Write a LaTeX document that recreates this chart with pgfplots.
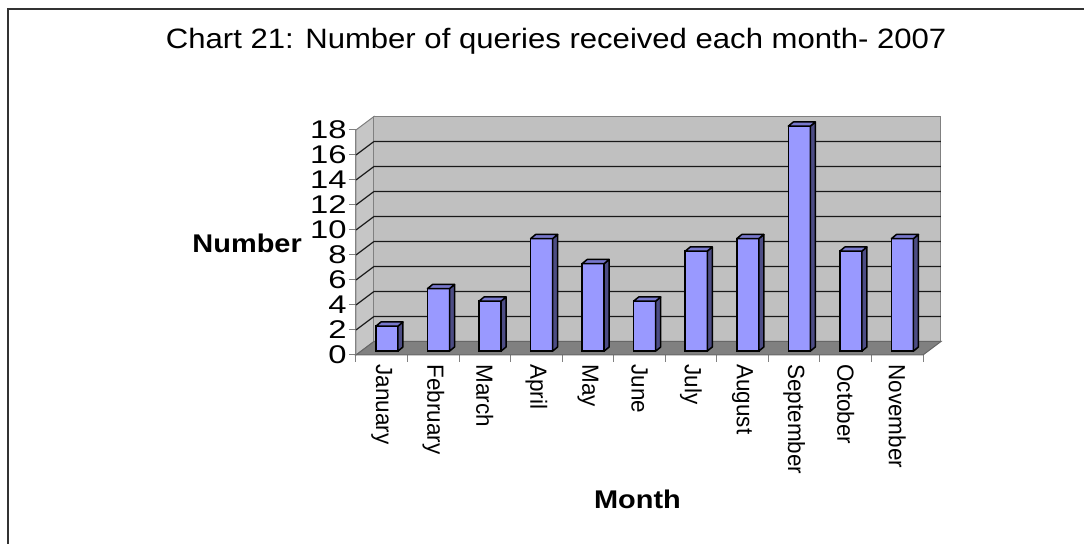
\documentclass[border=0pt]{standalone}
\usepackage{pgfplots}
\pgfplotsset{compat=1.18}
\usepackage{pgfplotstable}
\usepackage{fontspec}
\setmainfont{Liberation Sans}
\newfontfamily\titlefont[FakeStretch=1.11]{Liberation Sans}
\newfontfamily\labfont[FakeStretch=1.13]{Liberation Sans}
\newfontfamily\tickfont[FakeStretch=1.28]{Liberation Sans}
\newfontfamily\monthfont[FakeStretch=0.96]{Liberation Sans}

\definecolor{barfront}{HTML}{9999FF}
\definecolor{barside}{HTML}{4D4D85}
\definecolor{bartop}{HTML}{7878CC}
\definecolor{wall}{HTML}{C0C0C0}
\definecolor{sidewall}{HTML}{C6C6C6}
\definecolor{floorc}{HTML}{808080}

\pgfplotstableread{
x v
0 2
1 5
2 4
3 9
4 7
5 4
6 8
7 9
8 18
9 8
10 9
}\querydata

\def\DX{0.349}
\def\DY{1.08}
\def\SX{0.101}
\def\SY{0.31}
\def\BX{0.097}
\def\BY{0.33}
\def\HW{0.2135}

\begin{document}
\begin{tikzpicture}
\useasboundingbox (0,0) rectangle (542pt,272pt);
\clip (0,0) rectangle (542pt,272pt);
\fill[white] (0,0) rectangle (542pt,272pt);
\draw[line width=1pt, color=black!80] (3.75pt,-5pt) -- (3.75pt,267.25pt) -- (550pt,267.25pt);
\begin{axis}[
  at={(178pt,94.5pt)}, anchor=south west, scale only axis,
  width=283.5pt, height=112.5pt,
  xmin=-0.5, xmax=10.5, ymin=0, ymax=18,
  enlargelimits=false,
  clip=false,
  ybar stacked,
  reverse stacked plots=false,
  axis lines*=left,
  axis line style={draw=gray, line width=0.5pt},
  ytick={0,2,...,18},
  xtick={-0.5,0.5,...,10.5},
  xticklabels={},
  extra x ticks={0,1,2,3,4,5,6,7,8,9,10},
  extra x tick labels={January,February,March,April,May,June,July,August,September,October,November},
  extra x tick style={tick style={draw=none}, grid=none},
  tick align=outside,
  major tick length=3.5pt,
  tick style={gray, line width=0.5pt},
  /pgf/number format/assume math mode=true,
  yticklabel style={font=\tickfont\fontsize{12.8}{13}\selectfont, anchor=east, inner sep=1pt},
  xticklabel style={font=\monthfont\fontsize{11.7}{12}\selectfont, rotate=-90, anchor=west, inner sep=1pt},
  title={Chart 21: Number of queries received each month- 2007},
  title style={at={(axis description cs:0.353,1.307)}, anchor=base, font=\titlefont\fontsize{14}{16}\selectfont},
  ylabel={Number},
  ylabel style={rotate=-90, at={(axis description cs:-0.192,0.498)}, anchor=center, font=\labfont\bfseries\fontsize{12.8}{14}\selectfont},
  xlabel={Month},
  xlabel style={at={(axis description cs:0.4965,-0.64)}, anchor=center, font=\labfont\bfseries\fontsize{12.8}{14}\selectfont},
]
% left (side) wall
\fill[sidewall, draw=gray, line width=0.5pt] (axis cs:-0.5,0) -- (axis cs:-0.5,18) -- (axis cs:{-0.5+\DX},{18+\DY}) -- (axis cs:{-0.5+\DX},{\DY}) -- cycle;
% back wall
\fill[wall, draw=gray, line width=0.5pt] (axis cs:{-0.5+\DX},{\DY}) rectangle (axis cs:{10.5+\DX},{18+\DY});
% floor
\fill[floorc, draw=black!60, line width=0.5pt] (axis cs:-0.5,0) -- (axis cs:10.5,0) -- (axis cs:{10.5+\DX},{\DY}) -- (axis cs:{-0.5+\DX},{\DY}) -- cycle;
% gridlines
\pgfplotsinvokeforeach{2,4,...,16}{
  \draw[black!90, line width=0.6pt] (axis cs:-0.5,#1) -- (axis cs:{-0.5+\DX},{#1+\DY}) -- (axis cs:{10.5+\DX},{#1+\DY});
}
% bars: invisible lift then front faces
\addplot[draw=none, fill=none, bar width=0.427, bar shift=0.101, forget plot] table[x=x, y expr=\SY] {\querydata};
\addplot[fill=barfront, draw=black, line width=0.75pt, bar width=0.427, bar shift=0.101] table[x=x, y=v] {\querydata};
% side and top faces
\pgfplotsinvokeforeach{0,...,10}{
  \pgfplotstablegetelem{#1}{v}\of\querydata
  \edef\barval{\pgfplotsretval}
  \edef\temp{
    \noexpand\filldraw[fill=barside, draw=black, line width=0.75pt, line join=round]
      (axis cs:{#1+\SX+\HW},{\SY}) -- (axis cs:{#1+\SX+\HW},{\barval+\SY}) -- (axis cs:{#1+\SX+\HW+\BX},{\barval+\SY+\BY}) -- (axis cs:{#1+\SX+\HW+\BX},{\SY+\BY}) -- cycle;
    \noexpand\filldraw[fill=bartop, draw=black, line width=0.75pt, line join=round]
      (axis cs:{#1+\SX-\HW},{\barval+\SY}) -- (axis cs:{#1+\SX+\HW},{\barval+\SY}) -- (axis cs:{#1+\SX+\HW+\BX},{\barval+\SY+\BY}) -- (axis cs:{#1+\SX-\HW+\BX},{\barval+\SY+\BY}) -- cycle;
  }
  \temp
}
\end{axis}
\end{tikzpicture}
\end{document}
